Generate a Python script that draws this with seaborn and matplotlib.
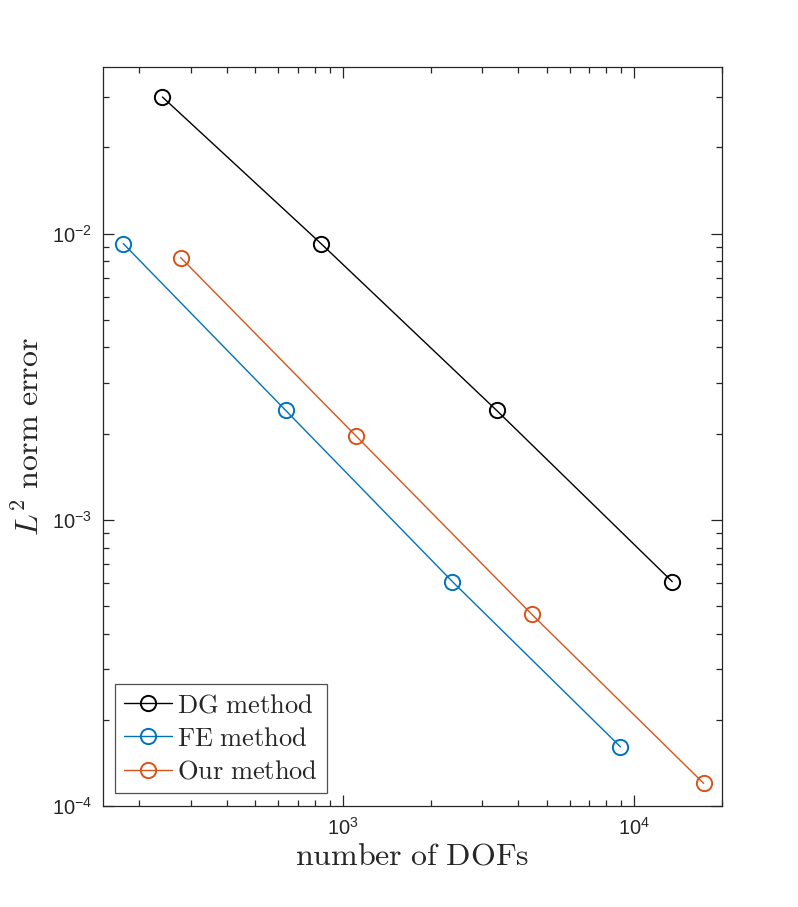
import numpy as np
import pandas as pd
import matplotlib
matplotlib.use("Agg")
import matplotlib.pyplot as plt
import seaborn as sns
from matplotlib.ticker import LogLocator, LogFormatterSciNotation, NullFormatter

# Data
dg_dofs = [240, 840, 3370, 13500]
dg_err = [0.0300, 0.00923, 0.00241, 6.08e-4]
fe_dofs = [176, 636, 2375, 8960]
fe_err = [0.00923, 0.00241, 6.08e-4, 1.61e-4]
our_dofs = [277, 1110, 4450, 17300]
our_err = [0.00825, 0.00196, 4.67e-4, 1.20e-4]
methods = ["DG method", "FE method", "Our method"]
colors = ["#000000", "#0072BD", "#D95319"]

df = pd.concat([
    pd.DataFrame({"dofs": dg_dofs, "err": dg_err, "method": methods[0]}),
    pd.DataFrame({"dofs": fe_dofs, "err": fe_err, "method": methods[1]}),
    pd.DataFrame({"dofs": our_dofs, "err": our_err, "method": methods[2]}),
], ignore_index=True)

sns.set_style("white")
plt.rcParams["font.family"] = ["Liberation Sans", "DejaVu Sans"]
plt.rcParams["mathtext.fontset"] = "cm"

fig = plt.figure(figsize=(7.98, 9.07), dpi=100)
ax = fig.add_axes([103 / 798, 1 - 806 / 907, (722 - 103) / 798, (806 - 67) / 907])

sns.lineplot(data=df, x="dofs", y="err", hue="method", palette=colors,
             marker="o", markersize=11, markerfacecolor="none",
             markeredgewidth=1.4, linewidth=1.0, ax=ax, legend=False,
             sort=False)
for line, c in zip(ax.get_lines(), colors):
    line.set_markeredgecolor(c)
    line.set_markerfacecolor("none")

ax.set_xscale("log")
ax.set_yscale("log")
ax.set_xlim(150, 2.0e4)
ax.set_ylim(1e-4, 0.0382)

frame_col = "#262626"
for s in ax.spines.values():
    s.set_visible(True)
    s.set_color(frame_col)
    s.set_linewidth(0.9)

ax.xaxis.set_major_locator(LogLocator(base=10, numticks=10))
ax.yaxis.set_major_locator(LogLocator(base=10, numticks=10))
ax.xaxis.set_minor_locator(LogLocator(base=10, subs=np.arange(2, 10), numticks=20))
ax.yaxis.set_minor_locator(LogLocator(base=10, subs=np.arange(2, 10), numticks=20))
ax.xaxis.set_minor_formatter(NullFormatter())
ax.yaxis.set_minor_formatter(NullFormatter())
ax.xaxis.set_major_formatter(LogFormatterSciNotation())
ax.yaxis.set_major_formatter(LogFormatterSciNotation())

ax.tick_params(which="both", direction="in", top=True, right=True,
               bottom=True, left=True, colors=frame_col, labelcolor="#262626")
ax.tick_params(which="major", length=8, width=0.9, labelsize=14.5, pad=8)
ax.tick_params(which="minor", length=4.5, width=0.9)

ax.set_xlabel(r"$\mathrm{number\ of\ DOFs}$", fontsize=23, labelpad=2)
ax.set_ylabel(r"$L^2\ \mathrm{norm\ error}$", fontsize=23, labelpad=4)

handles = [plt.Line2D([], [], color=c, marker="o", markersize=11,
                      markerfacecolor="none", markeredgewidth=1.4, linewidth=1.0)
           for c in colors]
labels = [r"$\mathrm{DG\ method}$", r"$\mathrm{FE\ method}$", r"$\mathrm{Our\ method}$"]
leg = ax.legend(handles, labels, loc="lower left", fontsize=19,
                frameon=True, fancybox=False, handlelength=1.8,
                handletextpad=0.2, borderpad=0.35, labelspacing=0.35,
                borderaxespad=0.0,
                bbox_to_anchor=(12 / 619, 13 / 739))
leg.get_frame().set_edgecolor(frame_col)
leg.get_frame().set_linewidth(0.9)

fig.savefig("out.png", dpi=100, facecolor="white")
